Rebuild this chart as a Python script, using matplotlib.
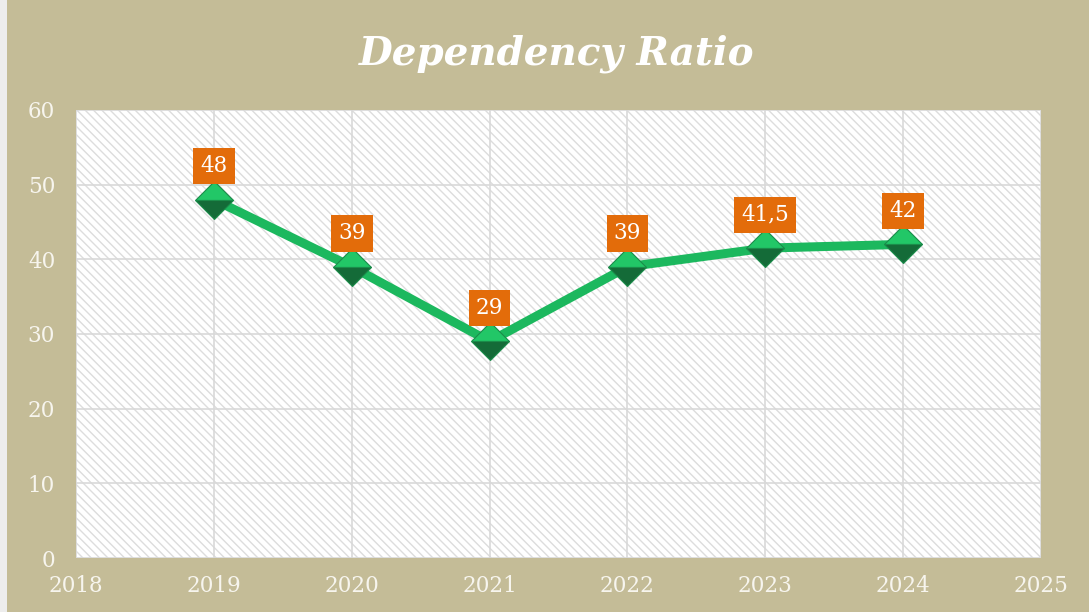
import matplotlib.pyplot as plt
from matplotlib.patches import Rectangle

# data
years = [2019, 2020, 2021, 2022, 2023, 2024]
ratio = [48, 39, 29, 39, 41.5, 42]
labels = ["48", "39", "29", "39", "41,5", "42"]
x_ticks = [2018, 2019, 2020, 2021, 2022, 2023, 2024, 2025]
y_ticks = [0, 10, 20, 30, 40, 50, 60]

bg = "#C4BC97"
line_green = "#1CB85E"
label_orange = "#E36C0A"
txt = "#F7F5EE"

plt.rcParams["font.family"] = ["DejaVu Serif"]
plt.rcParams["hatch.linewidth"] = 1.0

fig = plt.figure(figsize=(10.89, 6.12), dpi=100, facecolor="#EDEDED")
# tan chart background with a thin light strip on the left
fig.patches.append(Rectangle((7 / 1089, 0), 1, 1, transform=fig.transFigure,
                             facecolor=bg, edgecolor="none", zorder=-1))

ax = fig.add_axes([0.0698, 0.0882, 0.8862, 0.7321])
ax.set_facecolor("white")

# hatched plot area
ax.add_patch(Rectangle((0, 0), 1, 1, transform=ax.transAxes, facecolor="white",
                       edgecolor="#DDDDDD", hatch="\\\\\\\\", linewidth=0, zorder=0))

ax.set_xlim(2018, 2025)
ax.set_ylim(0, 60)
ax.set_xticks(x_ticks)
ax.set_yticks(y_ticks)
ax.grid(True, color="#D9D9D9", linewidth=1.2, zorder=1)
ax.set_axisbelow(True)
for s in ax.spines.values():
    s.set_visible(False)
ax.tick_params(length=0, colors=txt, labelsize=15.5)
ax.tick_params(axis="y", pad=15)
ax.tick_params(axis="x", pad=12)

ax.plot(years, ratio, color=line_green, linewidth=6.5, solid_capstyle="round", zorder=3)
ax.plot(years, ratio, linestyle="none", marker="D", markersize=19, fillstyle="top",
        markerfacecolor="#22C767", markerfacecoloralt="#146B38",
        markeredgecolor="#1A8C4A", markeredgewidth=0.8, zorder=4)

for x, y, lab in zip(years, ratio, labels):
    ax.annotate(lab, (x, y), xytext=(0, 24), textcoords="offset points",
                ha="center", va="center", color="white", fontsize=15.5,
                bbox=dict(boxstyle="square,pad=0.33", facecolor=label_orange, edgecolor="none"),
                zorder=5)

fig.text(0.511, 0.912, "Dependency Ratio", ha="center", va="center", color="white",
         fontsize=28, fontweight="bold", fontstyle="italic")

fig.savefig("out.png", dpi=100, facecolor=fig.get_facecolor())
